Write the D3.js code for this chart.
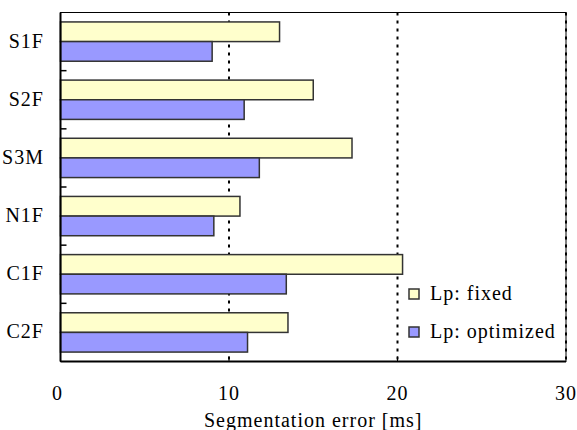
<!DOCTYPE html>
<html>
<head>
<meta charset="utf-8">
<script src="https://cdn.jsdelivr.net/npm/d3@7"></script>
<style>
  body { margin: 0; background: #fff; }
  svg text { font-family: 'Liberation Serif', 'DejaVu Serif'; font-size: 20px; fill: #000; letter-spacing: 1px; }
</style>
</head>
<body>
<svg id="chart" width="577" height="430"></svg>
<script>
// data
const categories = ['S1F', 'S2F', 'S3M', 'N1F', 'C1F', 'C2F'];
const seriesNames = ['Lp: fixed', 'Lp: optimized'];
const fixedValues = [13.0, 15.0, 17.3, 10.65, 20.3, 13.5];
const optimizedValues = [9.0, 10.9, 11.8, 9.1, 13.4, 11.1];
const xTicks = [0, 10, 20, 30];
const colors = ['#ffffcc', '#9999ff'];

const margin = { top: 12.5, right: 11, bottom: 68.5, left: 60.5 };
const width = 577, height = 430;
const serif = "'Liberation Serif', 'DejaVu Serif'";

const svg = d3.select('#chart');

const x = d3.scaleLinear().domain([0, 30]).range([margin.left, width - margin.right]);
const y = d3.scaleBand().domain(categories).range([margin.top, height - margin.bottom]).padding(0);
const ySub = d3.scaleBand().domain(seriesNames).range([0, y.bandwidth()]).paddingInner(0).paddingOuter(0.48);

const rows = categories.map((c, i) => ({ cat: c, values: [fixedValues[i], optimizedValues[i]] }));

// dotted grid lines
svg.append('g')
  .selectAll('line')
  .data(xTicks.filter(d => d > 0))
  .enter().append('line')
  .attr('x1', d => x(d)).attr('x2', d => x(d))
  .attr('y1', margin.top).attr('y2', height - margin.bottom)
  .attr('stroke', '#000')
  .attr('stroke-width', 2)
  .attr('stroke-dasharray', '3,5');

// bars
const g = svg.append('g');
g.selectAll('.grp')
  .data(rows)
  .enter().append('g')
  .attr('class', 'grp')
  .attr('transform', d => `translate(0,${y(d.cat)})`)
  .selectAll('rect')
  .data(d => d.values.map((v, j) => ({ name: seriesNames[j], v: v, j: j })))
  .enter().append('rect')
  .attr('x', x(0))
  .attr('y', d => ySub(d.name))
  .attr('width', d => x(d.v) - x(0))
  .attr('height', ySub.bandwidth())
  .attr('fill', d => colors[d.j])
  .attr('stroke', '#333')
  .attr('stroke-width', 1.5);

// frame
svg.append('rect')
  .attr('x', margin.left).attr('y', margin.top)
  .attr('width', x(30) - margin.left)
  .attr('height', height - margin.bottom - margin.top)
  .attr('fill', 'none')
  .attr('stroke', '#000')
  .attr('stroke-width', 1);
svg.append('line')
  .attr('x1', margin.left).attr('x2', margin.left)
  .attr('y1', margin.top).attr('y2', height - margin.bottom)
  .attr('stroke', '#000').attr('stroke-width', 2);
svg.append('line')
  .attr('x1', margin.left).attr('x2', x(30))
  .attr('y1', height - margin.bottom).attr('y2', height - margin.bottom)
  .attr('stroke', '#000').attr('stroke-width', 2);

// left ticks at group boundaries
svg.append('g')
  .selectAll('line')
  .data(categories.slice(1))
  .enter().append('line')
  .attr('x1', margin.left).attr('x2', margin.left + 6)
  .attr('y1', d => y(d)).attr('y2', d => y(d))
  .attr('stroke', '#000').attr('stroke-width', 1.5);

// bottom inner ticks
svg.append('g')
  .selectAll('line')
  .data(xTicks.slice(1, -1))
  .enter().append('line')
  .attr('x1', d => x(d)).attr('x2', d => x(d))
  .attr('y1', height - margin.bottom).attr('y2', height - margin.bottom - 5)
  .attr('stroke', '#000').attr('stroke-width', 1);

// category labels
svg.append('g')
  .selectAll('text')
  .data(categories)
  .enter().append('text')
  .attr('font-family', serif)
  .attr('x', 44)
  .attr('y', d => y(d) + y.bandwidth() / 2 + 6)
  .attr('text-anchor', 'end')
  .text(d => d);

// x tick labels
svg.append('g')
  .selectAll('text')
  .data(xTicks)
  .enter().append('text')
  .attr('font-family', serif)
  .attr('x', d => x(d) - (d === 0 ? 3 : 0))
  .attr('y', 400)
  .attr('text-anchor', 'middle')
  .text(d => d);

svg.append('text')
  .attr('font-family', serif)
  .attr('x', (margin.left + x(30)) / 2)
  .attr('y', 427)
  .attr('text-anchor', 'middle')
  .text('Segmentation error [ms]');

// legend
const legend = svg.append('g').attr('transform', 'translate(409,289)');
const li = legend.selectAll('g')
  .data(seriesNames)
  .enter().append('g')
  .attr('transform', (d, i) => `translate(0,${i * 38})`);
li.append('rect')
  .attr('width', 10).attr('height', 10)
  .attr('fill', (d, i) => colors[i])
  .attr('stroke', '#333').attr('stroke-width', 1.5);
li.append('text')
  .attr('font-family', serif)
  .attr('x', 21).attr('y', 11)
  .text(d => d);
</script>
</body>
</html>
